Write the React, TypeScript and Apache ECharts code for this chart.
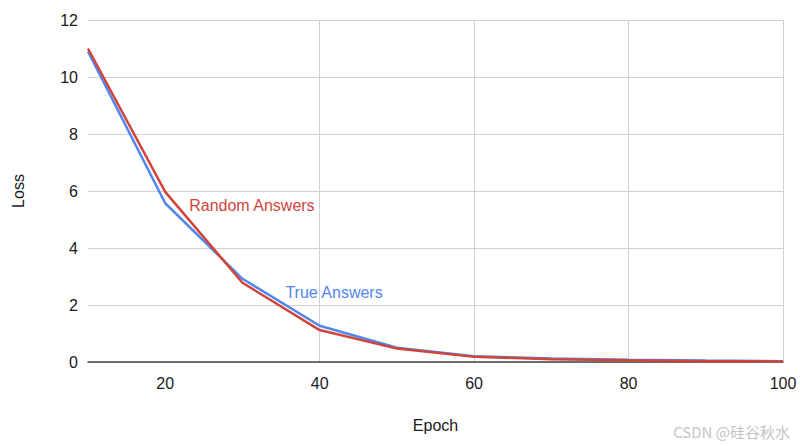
import React, { useEffect, useRef } from "react";
import * as echarts from "echarts";

const epochs = [10, 20, 30, 40, 50, 60, 70, 80, 90, 100];
const trueAnswers = [10.9, 5.57, 2.92, 1.27, 0.5, 0.2, 0.12, 0.08, 0.05, 0.03];
const randomAnswers = [11.0, 5.97, 2.78, 1.12, 0.47, 0.18, 0.1, 0.06, 0.03, 0.02];
const xTicks = [20, 40, 60, 80, 100];

const FONT = "'Liberation Sans', Arial, Helvetica, sans-serif";
const BLUE = "#5086f0";
const RED = "#d2443a";

export default function App() {
  const ref = useRef<HTMLDivElement>(null);
  useEffect(() => {
    if (!ref.current) return;
    const chart = echarts.init(ref.current, undefined, { renderer: "svg" });
    const mk = (vals: number[], labelIdx: number, text: string, color: string, offset: number[]) =>
      epochs.map((e, i) =>
        i === labelIdx
          ? {
              value: [e, vals[i]],
              label: {
                show: true,
                position: "right",
                offset,
                formatter: text,
                color,
                fontSize: 16,
                fontFamily: FONT,
              },
            }
          : { value: [e, vals[i]] }
      );
    chart.setOption({
      animation: false,
      backgroundColor: "#ffffff",
      grid: { left: 88, right: 17, top: 20, bottom: 84 },
      xAxis: {
        type: "value",
        min: 10,
        max: 100,
        name: "Epoch",
        nameLocation: "middle",
        nameGap: 55,
        nameTextStyle: { color: "#1a1a1a", fontSize: 16, fontFamily: FONT },
        axisLine: { show: true, lineStyle: { color: "#444", width: 1.5 } },
        axisTick: { show: false, customValues: xTicks },
        axisLabel: { customValues: xTicks, color: "#1a1a1a", fontSize: 16, fontFamily: FONT, margin: 13 },
        splitLine: { show: true, showMinLine: false, lineStyle: { color: "#d0d0d0", width: 1 } },
      },
      yAxis: {
        type: "value",
        min: 0,
        max: 12,
        interval: 2,
        name: "Loss",
        nameLocation: "middle",
        nameGap: 62,
        nameTextStyle: { color: "#1a1a1a", fontSize: 16, fontFamily: FONT },
        axisLine: { show: false },
        axisTick: { show: false },
        axisLabel: { color: "#1a1a1a", fontSize: 16, fontFamily: FONT, margin: 10 },
        splitLine: { show: true, lineStyle: { color: "#d0d0d0", width: 1 } },
      },
      series: [
        {
          name: "True Answers",
          type: "line",
          data: mk(trueAnswers, 2, "True Answers", BLUE, [38, 14]),
          showSymbol: true,
          symbol: "circle",
          symbolSize: 0,
          lineStyle: { color: BLUE, width: 2.5 },
          itemStyle: { color: BLUE },
          z: 3,
        },
        {
          name: "Random Answers",
          type: "line",
          data: mk(randomAnswers, 1, "Random Answers", RED, [19, 14]),
          showSymbol: true,
          symbol: "circle",
          symbolSize: 0,
          lineStyle: { color: RED, width: 2.5 },
          itemStyle: { color: RED },
          z: 4,
        },
      ],
      graphic: [
        {
          type: "text",
          right: 10,
          bottom: 7,
          style: {
            text: "CSDN @硅谷秋水",
            fill: "#c4c4c4",
            fontSize: 15,
            fontFamily: "'Noto Sans CJK SC', sans-serif",
          },
        },
      ],
    });
    return () => chart.dispose();
  }, []);
  return <div ref={ref} style={{ width: 800, height: 446, position: "absolute", left: 0, top: 0 }} />;
}
